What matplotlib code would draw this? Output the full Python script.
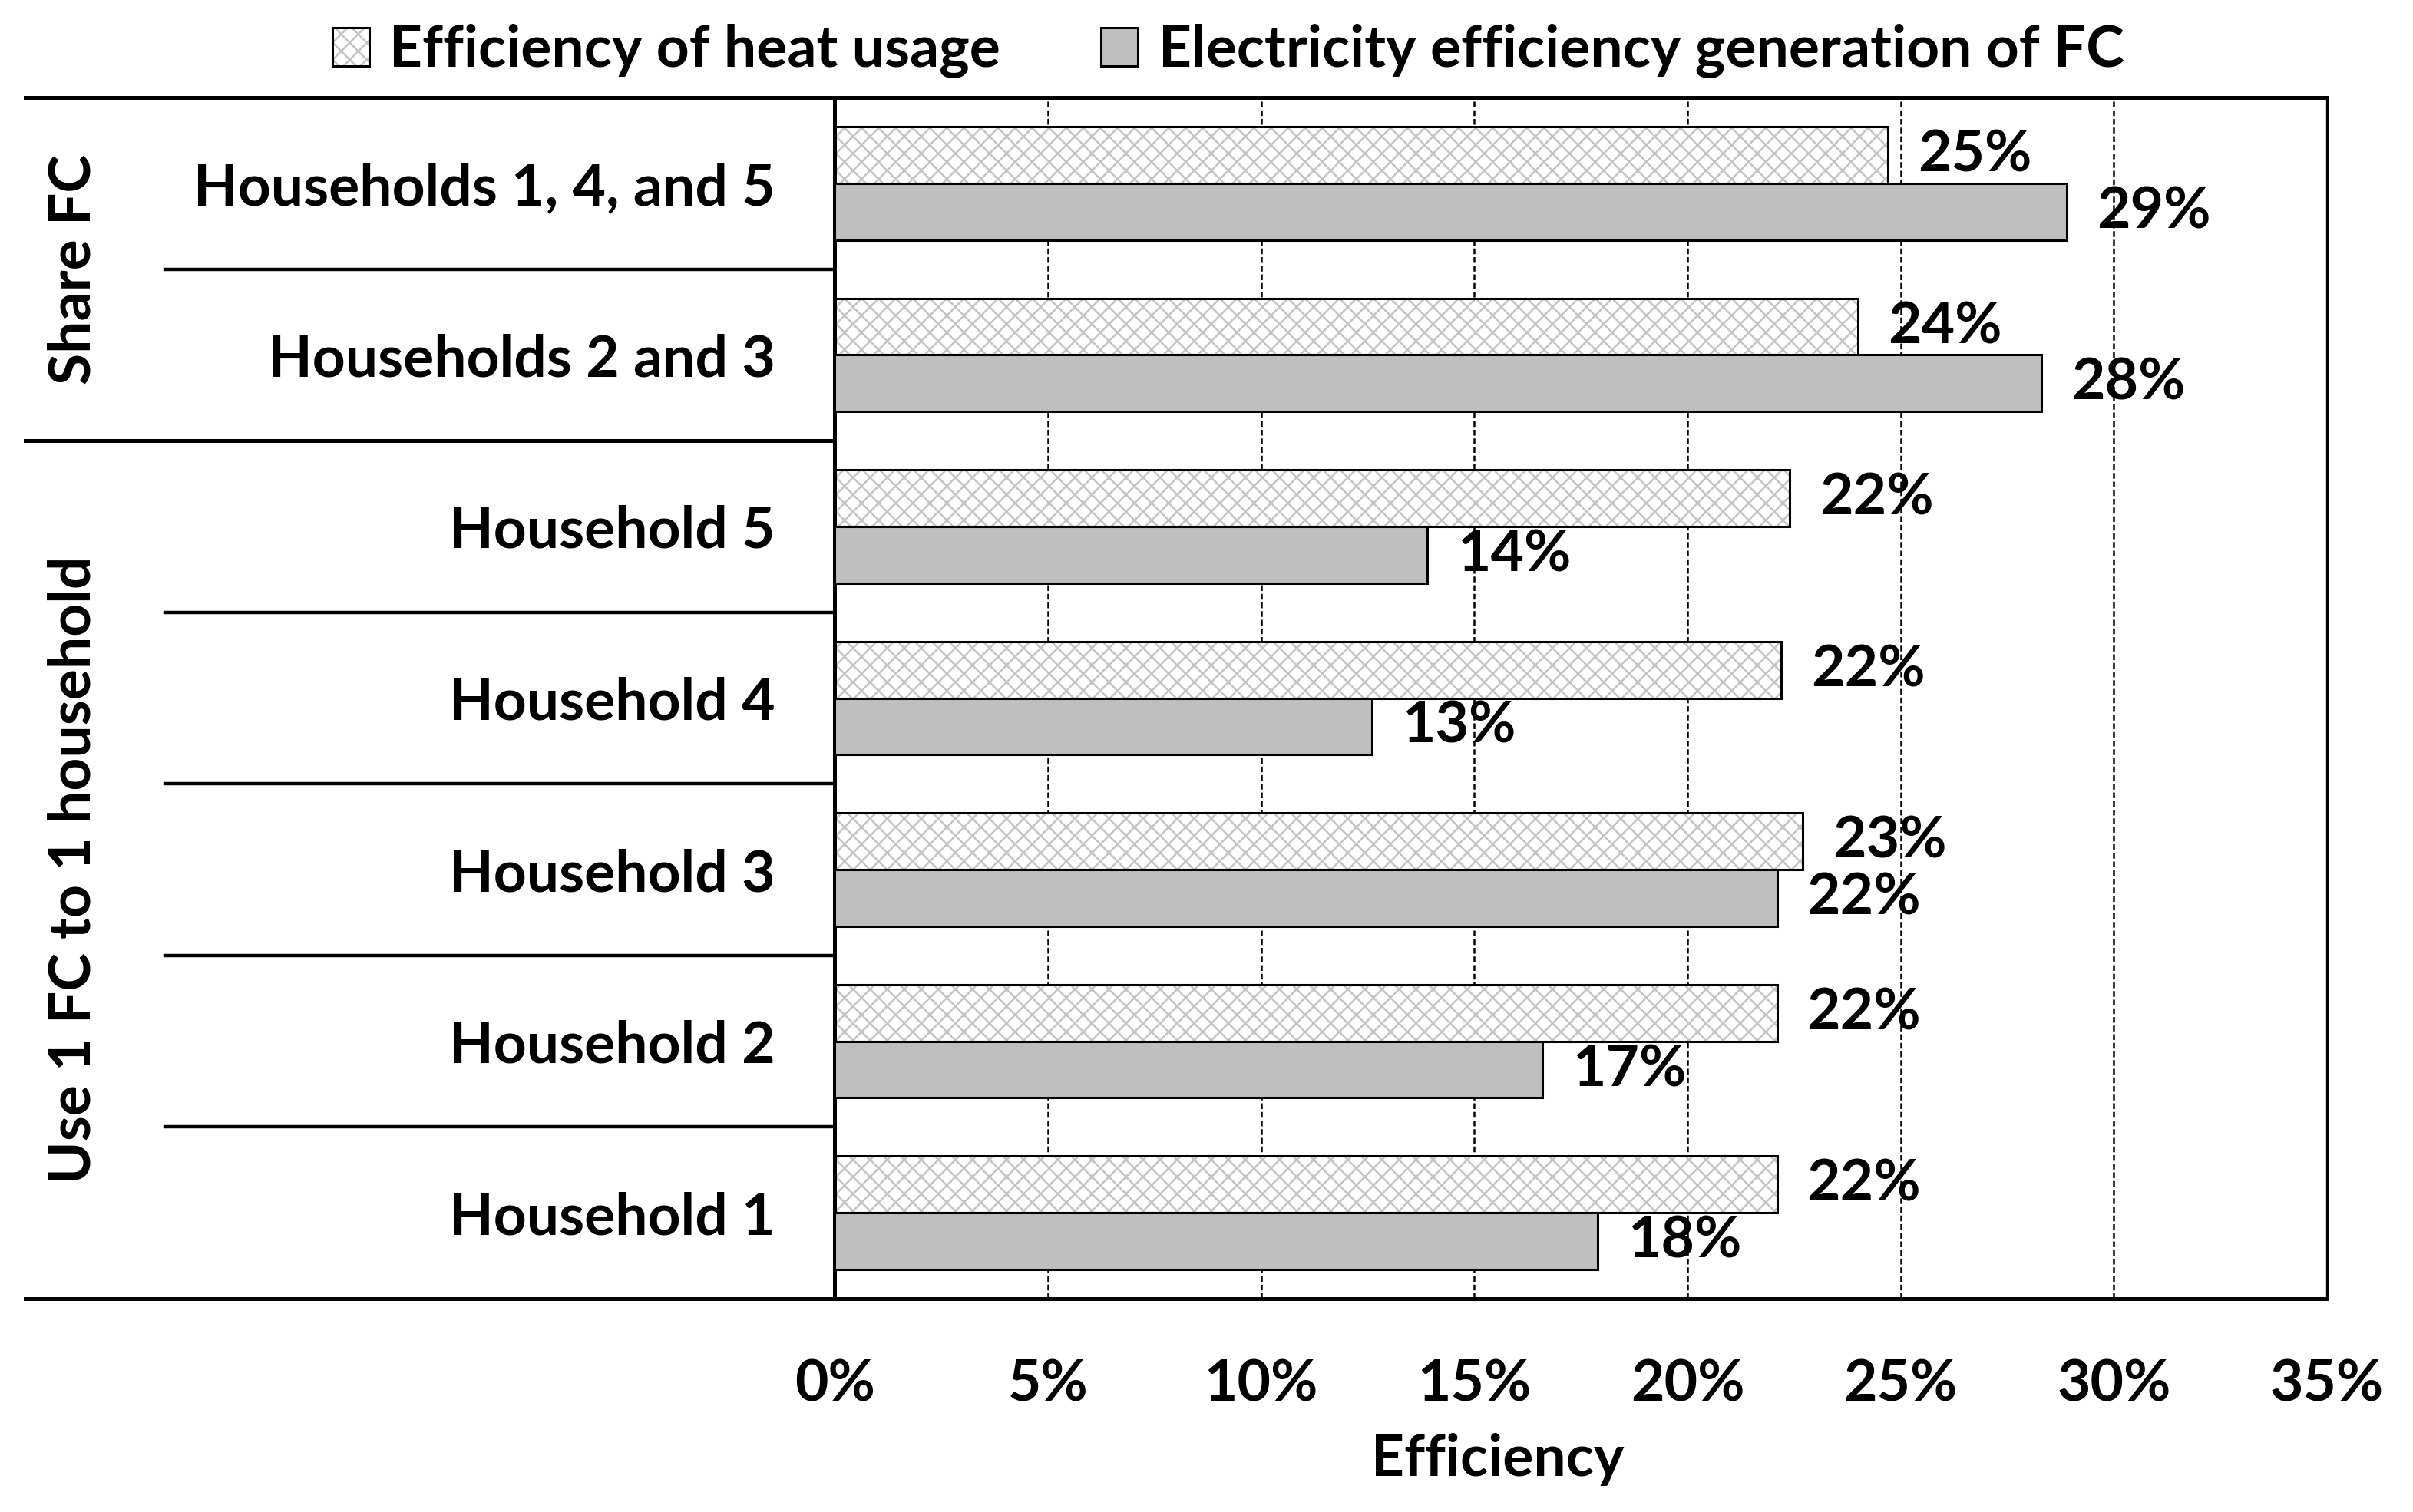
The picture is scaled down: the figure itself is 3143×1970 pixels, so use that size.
import matplotlib.pyplot as plt
import matplotlib.transforms as mtransforms
from matplotlib.patches import Patch
import numpy as np

# data (top to bottom)
categories = ['Households 1, 4, and 5', 'Households 2 and 3', 'Household 5',
              'Household 4', 'Household 3', 'Household 2', 'Household 1']
heat_usage = [24.7, 24.0, 22.4, 22.2, 22.7, 22.1, 22.1]
elec_generation = [28.9, 28.3, 13.9, 12.6, 22.1, 16.6, 17.9]
groups = ['Share FC', 'Use 1 FC to 1 household']
group_sizes = [2, 5]
xticks = [0, 5, 10, 15, 20, 25, 30, 35]
series_names = ['Efficiency of heat usage', 'Electricity efficiency generation of FC']

plt.rcParams['font.family'] = ['Lato', 'DejaVu Sans']
plt.rcParams['font.weight'] = 'bold'
plt.rcParams['axes.labelweight'] = 'bold'
plt.rcParams['hatch.linewidth'] = 0.9
fs = 27
hatch_col = '#c4c4c4'

fig = plt.figure(figsize=(15.715, 9.85), dpi=200)
ax = fig.add_axes([0.3459, 0.1411, 0.6185, 0.7944])

y = np.arange(len(categories)) + 0.5
h = 0.33
# hatched bars: gray hatch, then black outline on top
ax.barh(y - h / 2, heat_usage, h, color='white', edgecolor=hatch_col,
        hatch='xxx', linewidth=0, zorder=2)
ax.barh(y - h / 2, heat_usage, h, fill=False, edgecolor='black',
        linewidth=1.1, zorder=3)
ax.barh(y + h / 2, elec_generation, h, color='#bfbfbf', edgecolor='black',
        linewidth=1.1, zorder=3)

# value labels
for yy, v in zip(y - h / 2, heat_usage):
    ax.text(v + 0.7, yy, f'{v:.0f}%', va='center', ha='left', fontsize=fs)
for yy, v in zip(y + h / 2, elec_generation):
    ax.text(v + 0.7, yy, f'{v:.0f}%', va='center', ha='left', fontsize=fs)

ax.set_xlim(0, 35)
ax.set_ylim(len(categories), 0)
ax.set_xticks(xticks)
ax.set_xticklabels([f'{t}%' for t in xticks], fontsize=fs)
ax.set_yticks(y)
ax.set_yticklabels(categories, fontsize=fs)
ax.tick_params(axis='x', length=0, pad=28)
ax.tick_params(axis='y', length=0, pad=28)
ax.xaxis.grid(True, color='black', linestyle=(0, (3, 1.5)), linewidth=0.9)
ax.set_axisbelow(True)

for s in ['top', 'bottom', 'left']:
    ax.spines[s].set_linewidth(1.8)
ax.spines['right'].set_linewidth(1.2)

ax.set_xlabel('Efficiency', fontsize=fs)
ax.xaxis.set_label_coords(0.444, -0.112)

# table-like lines and group labels on the left
trans = mtransforms.blended_transform_factory(ax.transAxes, ax.transData)
x_outer, x_inner = -0.5422, -0.4486
ax.plot([x_outer, 0], [0, 0], transform=trans, clip_on=False, color='black', lw=1.8)
start = 0
for g, n in zip(groups, group_sizes):
    end = start + n
    ax.plot([x_outer, 0], [end, end], transform=trans, clip_on=False,
            color='black', lw=1.8)
    for k in range(start + 1, end):
        ax.plot([x_inner, 0], [k, k], transform=trans, clip_on=False,
                color='black', lw=1.6)
    ax.text(-0.510, (start + end) / 2, g, rotation=90, transform=trans,
            ha='center', va='center', fontsize=fs)
    start = end

# legend
heat_handle = (Patch(facecolor='white', edgecolor=hatch_col, hatch='xxx', linewidth=0),
               Patch(fill=False, edgecolor='black', linewidth=1.1))
elec_handle = Patch(facecolor='#bfbfbf', edgecolor='black', linewidth=1.1)
fig.legend([heat_handle, elec_handle], series_names, loc='center',
           bbox_to_anchor=(0.509, 0.966), ncol=2, frameon=False, fontsize=fs,
           handlelength=0.64, handleheight=0.64, handletextpad=0.35,
           columnspacing=1.75)

fig.savefig('out.png', dpi=200)
